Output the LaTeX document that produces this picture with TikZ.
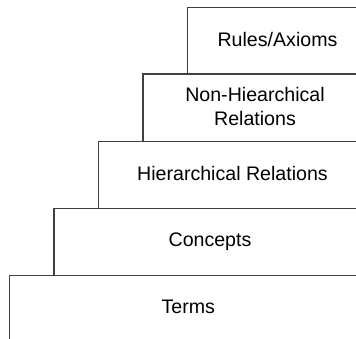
\documentclass[tikz,border=0pt]{standalone}
\usepackage{fontspec}
\setmainfont{Liberation Sans}
\begin{document}
\begin{tikzpicture}[x=1pt,y=-1pt,
  layer/.style={draw=black!75, line width=1.1pt},
  lbl/.style={font=\fontsize{19.6}{23.3}\selectfont, align=center, text=black, inner sep=0pt, anchor=base}]
\useasboundingbox (0,0) rectangle (356,338);
\clip (0,0) rectangle (356,338);
\draw[layer] (9.5,275.5) rectangle (367,350);
\draw[layer] (54,208.5) rectangle (367,275.5);
\draw[layer] (98.5,141.5) rectangle (367,208.5);
\draw[layer] (143,74) rectangle (367,141.5);
\draw[layer] (187.5,7.5) rectangle (367,74);
\node[lbl] (rules) at (277.5,46) {Rules/Axioms};
\node[lbl] (nonhier) at (255,125) {Non-Hiearchical\\Relations};
\node[lbl] (hier) at (232.5,180) {Hierarchical Relations};
\node[lbl] (concepts) at (210,246.7) {Concepts};
\node[lbl] (terms) at (188.3,313.3) {Terms};
\end{tikzpicture}
\end{document}
